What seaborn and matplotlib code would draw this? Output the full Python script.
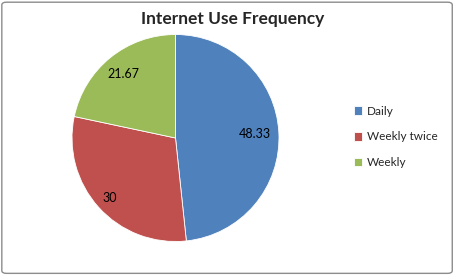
import matplotlib
matplotlib.use("Agg")
import matplotlib.pyplot as plt
import numpy as np
import seaborn as sns
from matplotlib.patches import FancyBboxPatch

# data
categories = ["Daily", "Weekly twice", "Weekly"]
values = [48.33, 30, 21.67]
value_labels = ["48.33", "30", "21.67"]
colors = ["#4F81BD", "#C0504D", "#9BBB59"]

sns.set_style("white")
plt.rcParams["font.family"] = ["Lato", "DejaVu Sans"]

fig = plt.figure(figsize=(4.55, 2.75), dpi=100)
fig.patch.set_facecolor("white")

# outer chart border like the spreadsheet chart area
border = FancyBboxPatch((0.004, 0.006), 0.990, 0.986,
                        boxstyle="round,pad=0,rounding_size=0.01",
                        transform=fig.transFigure, facecolor="none",
                        edgecolor="#8c8c8c", linewidth=1.0)
fig.patches.append(border)

ax = fig.add_axes([72 / 455, 33.5 / 275, 207 / 455, 207 / 275])
wedges, _ = ax.pie(values, colors=colors, startangle=90, counterclock=False,
                   wedgeprops=dict(edgecolor="white", linewidth=0.6))
ax.set_xlim(-1, 1)
ax.set_ylim(-1, 1)
ax.set_aspect("equal")

# value labels inside the slices
dists = [0.77, 0.86, 0.80]
for w, lab, d in zip(wedges, value_labels, dists):
    mid = np.deg2rad((w.theta1 + w.theta2) / 2)
    ax.text(d * np.cos(mid), d * np.sin(mid), lab, ha="center", va="center",
            fontsize=9, color="black")

fig.text(233 / 455, 1 - 19 / 275, "Internet Use Frequency", ha="center",
         va="center", fontsize=12.5, fontweight="bold")

leg = fig.legend(wedges, categories, loc="center left",
                 bbox_to_anchor=(343 / 455, 1 - 137 / 275), frameon=False,
                 fontsize=8.5, handlelength=0.7, handleheight=0.7,
                 handletextpad=0.4, labelspacing=1.25)

fig.savefig("out.png", dpi=100)
